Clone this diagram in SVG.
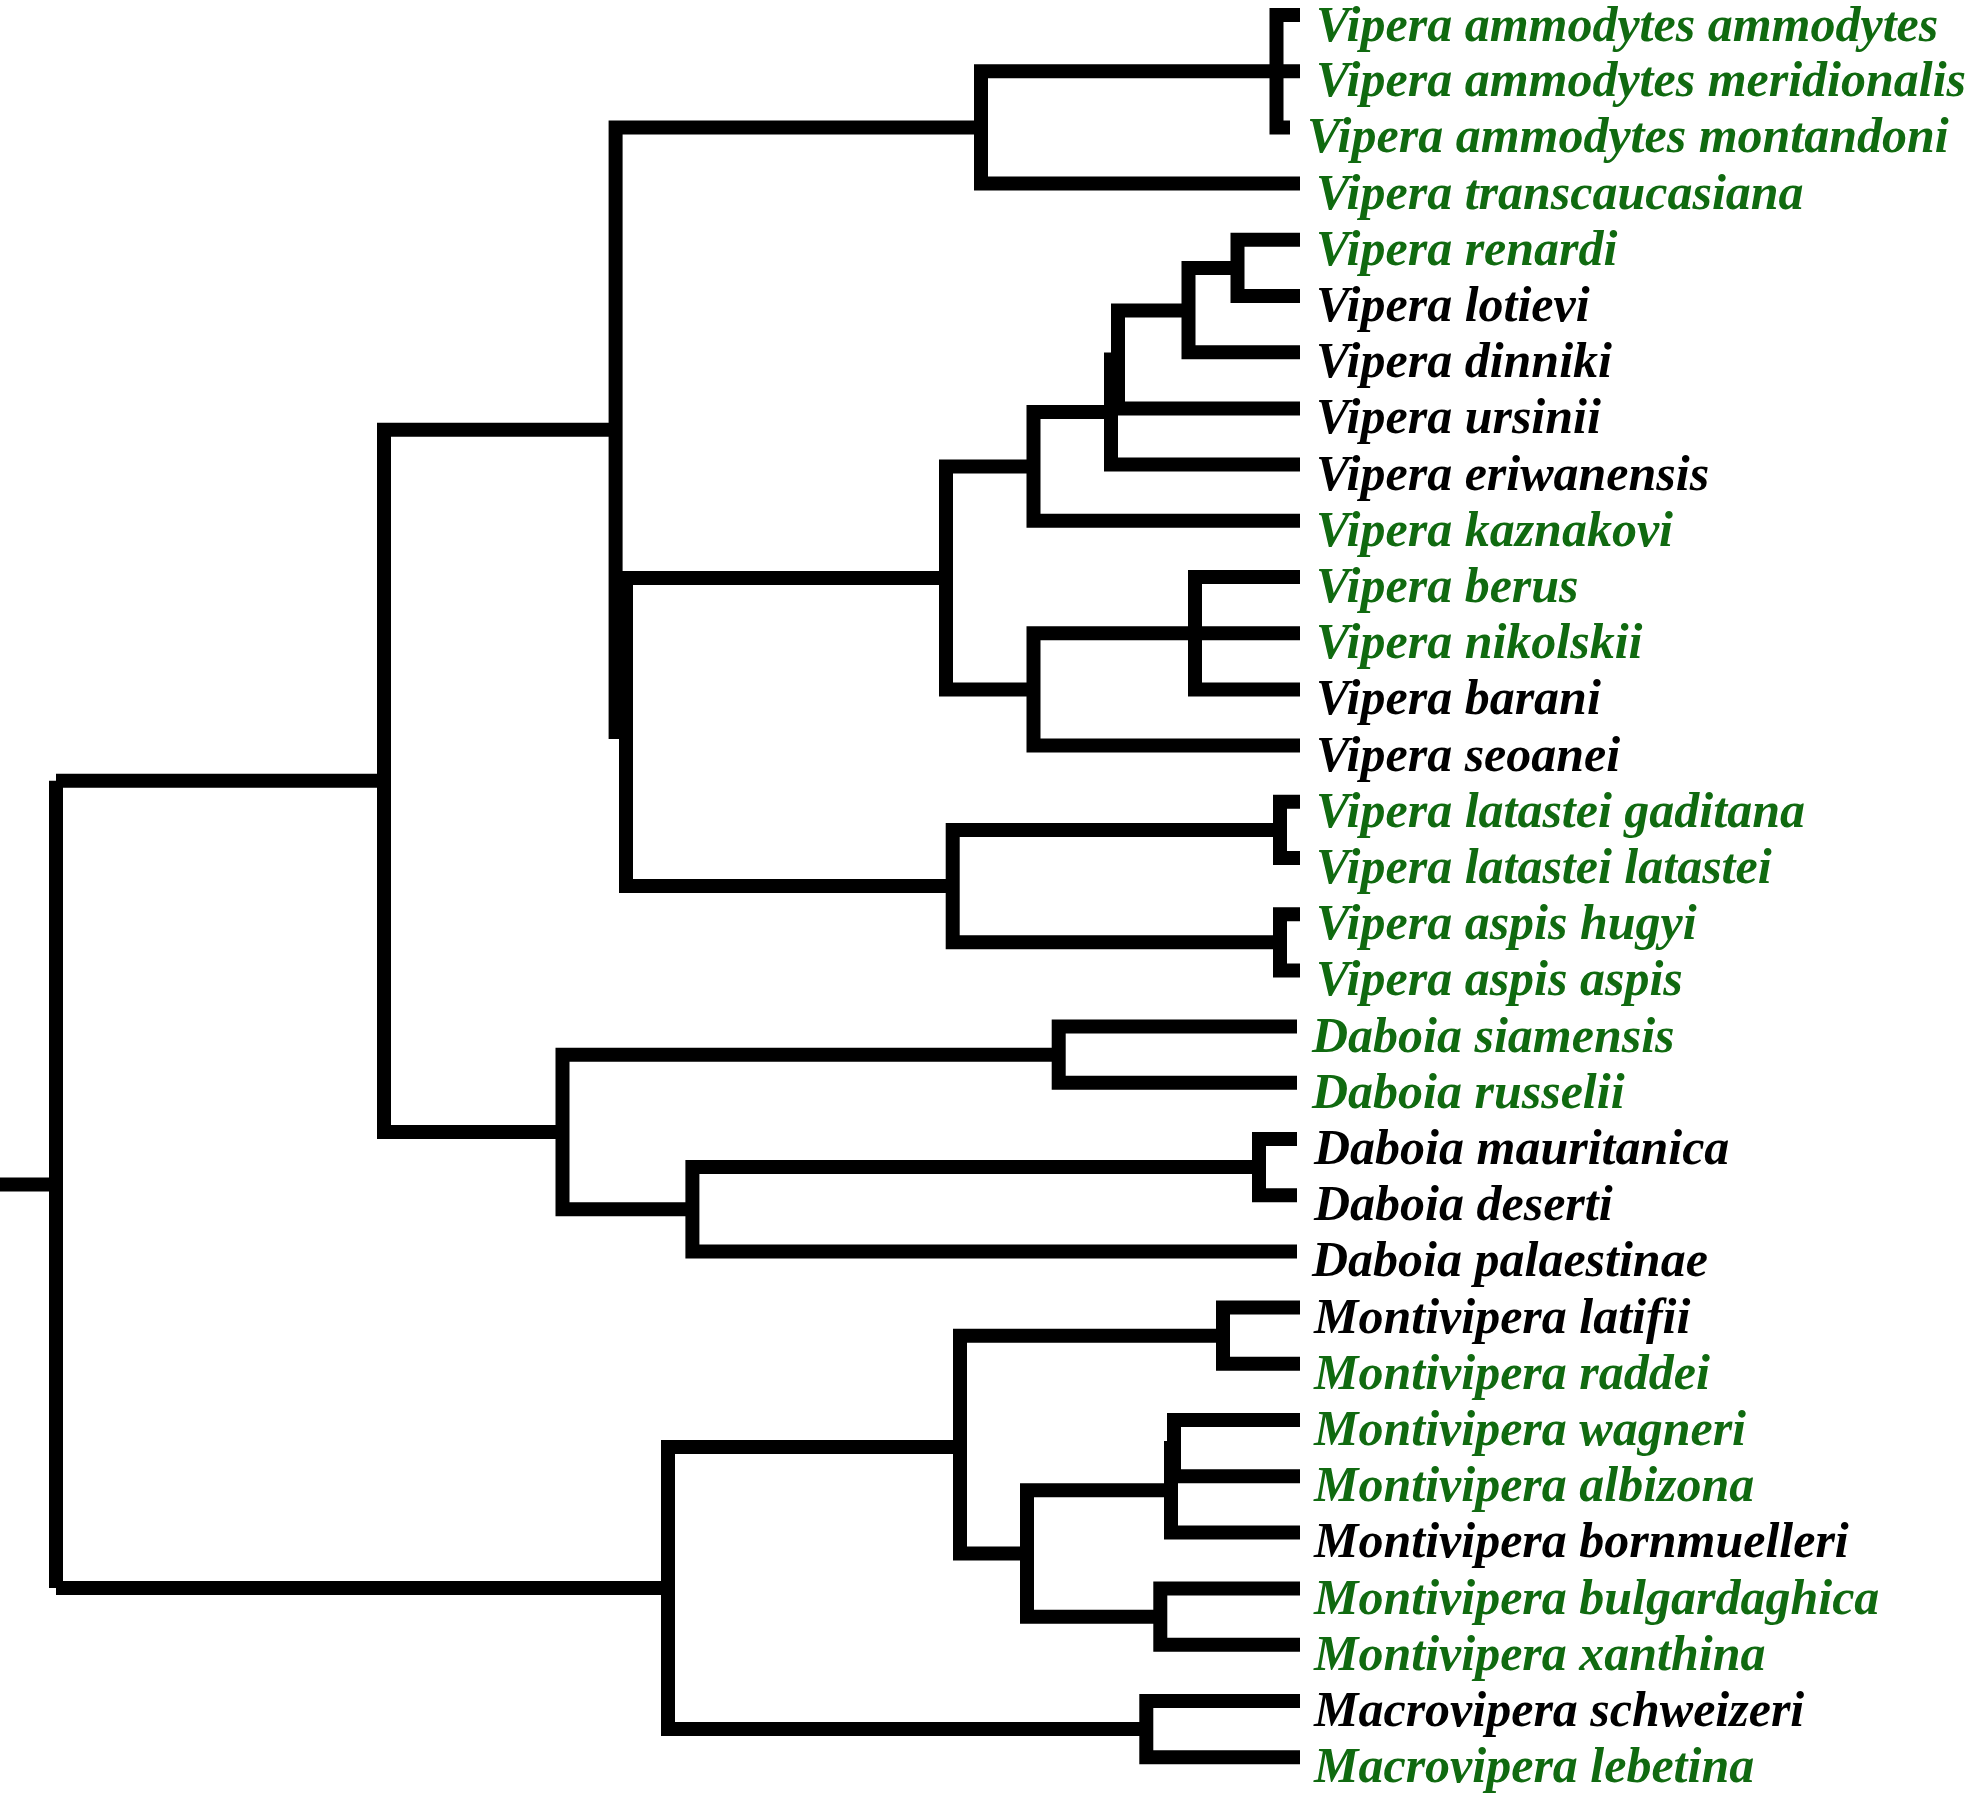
<svg xmlns="http://www.w3.org/2000/svg" width="1969" height="1796" viewBox="0 0 1969 1796">
<style>
.br{fill:none;stroke:#000;stroke-width:14;stroke-linejoin:miter;stroke-linecap:butt}
.t{font-family:"Liberation Serif","Times New Roman",serif;font-size:50px;font-weight:bold;font-style:italic}
.g{fill:#106a10}
.k{fill:#000}
</style>
<rect width="1969" height="1796" fill="#fff"/>
<g id="connectors" class="br">
<path d="M0 1184.4H56V780.8M56 1184.4V1588"/>
<path d="M384 780.8H56M56 1588H668"/>
<path d="M615.6 429.7H384V1132H562.5"/>
<path d="M981 127.4H615.6V732H626"/>
<path d="M1276.5 71.2H981V183.6H1300"/>
<path d="M1300 15H1276.5V127.4H1290M1276.5 71.2H1300"/>
<path d="M946 578H626V886.1H952.7"/>
<path d="M1033.5 466.4H946V689.4H1033.5"/>
<path d="M1111 412H1033.5V520.8H1300"/>
<path d="M1118 359.5H1111V464.6H1300"/>
<path d="M1188.5 310.4H1118V408.4H1300"/>
<path d="M1237.5 268H1188.5V352.2H1300"/>
<path d="M1300 239.8H1237.5V296H1300"/>
<path d="M1195 633.2H1033.5V745.6H1300"/>
<path d="M1300 577H1195V689.4H1300M1195 633.2H1300"/>
<path d="M1280 829.9H952.7V942.3H1280"/>
<path d="M1300 801.8H1280V858H1300"/>
<path d="M1300 914.2H1280V970.4H1300"/>
<path d="M1058.7 1054.7H562.5V1209.2H692.4"/>
<path d="M1297 1026.6H1058.7V1082.8H1297"/>
<path d="M1259 1167.1H692.4V1251.4H1297"/>
<path d="M1297 1139H1259V1195.2H1297"/>
<path d="M960 1447H668V1729.1H1146.3"/>
<path d="M1300 1701H1146.3V1757.2H1300"/>
<path d="M1223 1335.7H960V1553.5H1027"/>
<path d="M1300 1307.6H1223V1363.8H1300"/>
<path d="M1171 1490.3H1027V1616.7H1160.3"/>
<path d="M1174 1448.1H1171V1532.4H1300"/>
<path d="M1300 1420H1174V1476.2H1300"/>
<path d="M1300 1588.6H1160.3V1644.8H1300"/>
</g>
<g id="taxon-01"><text class="t g" x="1316" y="41">Vipera ammodytes ammodytes</text></g>
<g id="taxon-02"><text class="t g" x="1316" y="96.2">Vipera ammodytes meridionalis</text></g>
<g id="taxon-03"><text class="t g" x="1307" y="152.4">Vipera ammodytes montandoni</text></g>
<g id="taxon-04"><text class="t g" x="1316" y="208.6">Vipera transcaucasiana</text></g>
<g id="taxon-05"><text class="t g" x="1316" y="264.8">Vipera renardi</text></g>
<g id="taxon-06"><text class="t k" x="1316" y="321">Vipera lotievi</text></g>
<g id="taxon-07"><text class="t k" x="1316" y="377.2">Vipera dinniki</text></g>
<g id="taxon-08"><text class="t k" x="1316" y="433.4">Vipera ursinii</text></g>
<g id="taxon-09"><text class="t k" x="1316" y="489.6">Vipera eriwanensis</text></g>
<g id="taxon-10"><text class="t g" x="1316" y="545.8">Vipera kaznakovi</text></g>
<g id="taxon-11"><text class="t g" x="1316" y="602">Vipera berus</text></g>
<g id="taxon-12"><text class="t g" x="1316" y="658.2">Vipera nikolskii</text></g>
<g id="taxon-13"><text class="t k" x="1316" y="714.4">Vipera barani</text></g>
<g id="taxon-14"><text class="t k" x="1316" y="770.6">Vipera seoanei</text></g>
<g id="taxon-15"><text class="t g" x="1316" y="826.8">Vipera latastei gaditana</text></g>
<g id="taxon-16"><text class="t g" x="1316" y="883">Vipera latastei latastei</text></g>
<g id="taxon-17"><text class="t g" x="1316" y="939.2">Vipera aspis hugyi</text></g>
<g id="taxon-18"><text class="t g" x="1316" y="995.4">Vipera aspis aspis</text></g>
<g id="taxon-19"><text class="t g" x="1312" y="1051.6">Daboia siamensis</text></g>
<g id="taxon-20"><text class="t g" x="1312" y="1107.8">Daboia russelii</text></g>
<g id="taxon-21"><text class="t k" x="1314" y="1164">Daboia mauritanica</text></g>
<g id="taxon-22"><text class="t k" x="1314" y="1220.2">Daboia deserti</text></g>
<g id="taxon-23"><text class="t k" x="1312" y="1276.4">Daboia palaestinae</text></g>
<g id="taxon-24"><text class="t k" x="1314" y="1332.6">Montivipera latifii</text></g>
<g id="taxon-25"><text class="t g" x="1314" y="1388.8">Montivipera raddei</text></g>
<g id="taxon-26"><text class="t g" x="1314" y="1445">Montivipera wagneri</text></g>
<g id="taxon-27"><text class="t g" x="1314" y="1501.2">Montivipera albizona</text></g>
<g id="taxon-28"><text class="t k" x="1314" y="1557.4">Montivipera bornmuelleri</text></g>
<g id="taxon-29"><text class="t g" x="1314" y="1613.6">Montivipera bulgardaghica</text></g>
<g id="taxon-30"><text class="t g" x="1314" y="1669.8">Montivipera xanthina</text></g>
<g id="taxon-31"><text class="t k" x="1314" y="1726">Macrovipera schweizeri</text></g>
<g id="taxon-32"><text class="t g" x="1314" y="1782.2">Macrovipera lebetina</text></g>
</svg>
